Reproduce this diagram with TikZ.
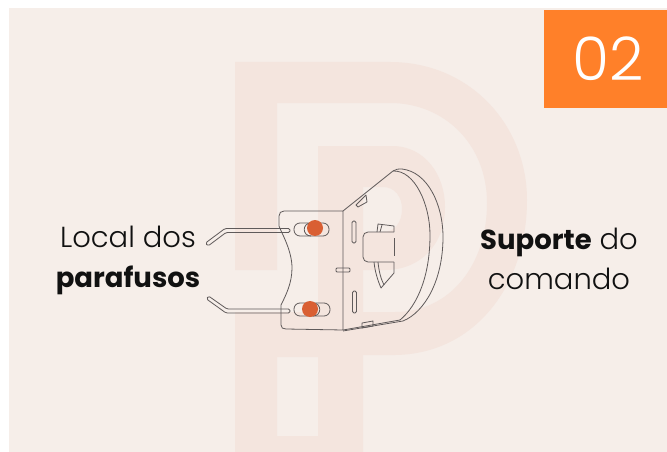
\documentclass[tikz,border=0pt]{standalone}
\usepackage{fontspec}
\setmainfont{Poppins}
\newfontfamily\lightfont{Poppins Light}
\newfontfamily\boldfont[FakeBold=0]{Poppins}
\definecolor{panel}{HTML}{F6EEE9}
\definecolor{wm}{HTML}{F4E5DE}
\definecolor{badge}{HTML}{FF8029}
\definecolor{ink}{HTML}{5F5A5A}
\definecolor{dot}{HTML}{D95F33}
\definecolor{txt}{HTML}{111111}
\newcommand{\strongpart}[1]{{\fontsize{27.5}{40}\selectfont\normalfont\bfseries #1}}
\tikzset{
  part/.style={draw=ink,line width=.8pt,line join=round},
  caption/.style={text=txt,font=\fontsize{29}{40}\selectfont\lightfont,align=center,inner sep=0pt},
  screw/.style={fill=dot,draw=none,circle,minimum size=16pt,inner sep=0pt}
}
\begin{document}
\begin{tikzpicture}[x=1pt,y=-1pt]
\useasboundingbox (0,0) rectangle (667,452);
\fill[white] (0,0) rectangle (667,452);
\fill[panel] (9,8) rectangle (667,452);
% watermark: outer band
\fill[wm,even odd rule] (235,62) -- (390,62) .. controls (470,62) and (527,125) .. (527,200) .. controls (527,285) and (475,354) .. (395,355) -- (363,355) -- (363,452) -- (235,452) -- (235,312) -- (395,312) .. controls (450,312) and (487,265) .. (487,203) .. controls (487,145) and (445,103) .. (390,103) -- (277,103) -- (277,270) -- (235,270) -- cycle
 (277,357) rectangle (318,436);
% watermark: inner stem and bowl
\fill[wm,even odd rule] (318,146) -- (392,146) .. controls (425,146) and (445,175) .. (445,207) .. controls (445,245) and (420,270) .. (385,270) -- (363,270) -- (363,312) -- (318,312) -- cycle
 (363,187) -- (383,187) .. controls (395,187) and (402,197) .. (402,209) .. controls (402,222) and (395,232) .. (383,232) -- (363,232) -- cycle;
\fill[badge] (544,10) rectangle (667,108);
\node[text=white,font=\fontsize{60}{60}\selectfont\lightfont,inner sep=0pt] (num) at (608,59) {02};
\node[caption] (l1) at (128,260) {Local dos\\\strongpart{parafusos}};
\node[caption] (l2) at (559,259) {\strongpart{Suporte} do\\comando};
% plate
\draw[part] (343,211) -- (284,211) .. controls (281,211) and (279,213) .. (279,216) -- (279,226) .. controls (281,232) and (292,250) .. (292,268) .. controls (292,283) and (286,295) .. (281,305) -- (281,325) .. controls (281,328) and (283,329) .. (286,329) -- (343,330) -- cycle;
\draw[part] (343,211) -- (393,171) .. controls (396,169) and (398,169) .. (402,169) .. controls (428,172) and (443,205) .. (443,237) .. controls (443,280) and (425,312) .. (403,321) -- (343,331);
\draw[part] (393,171) .. controls (415,170) and (430,205) .. (430,235) .. controls (430,275) and (418,305) .. (400,320) -- (343,330);
\draw[part] (356,205) -- (366,195) -- (367,202) -- (358,207) -- cycle;
\draw[part] (362,323) -- (373,321) -- (373,326) -- (362,328) -- cycle;
\draw[part,rounded corners=1pt] (336,268) rectangle (350,272);
\draw[part,rounded corners=1.5pt] (352,221) rectangle (356,243);
\draw[part,rounded corners=1.5pt] (352.5,291) rectangle (356.5,313);
\draw[part,rounded corners=5pt] (394,232) -- (363,232) -- (363,262) -- (394,262);
\draw[part] (394,238) -- (394,256);
\draw[part] (377,232) -- (378,224) -- (394,226) -- (394,232);
\draw[part] (382,225) -- (380,232);
\draw[part] (374,262) .. controls (375,272) and (378,281) .. (381,288) -- (394,273) -- (394,262);
\draw[part] (378,262) .. controls (379,272) and (381,279) .. (384,285);
% slots
\draw[part,rounded corners=6pt] (294,223) rectangle (329,236);
\draw[part] (311,223) .. controls (302,223) and (302,236) .. (311,236);
\draw[part,rounded corners=6pt] (294,303) rectangle (330,316);
\draw[part] (313,303) .. controls (322,303) and (322,316) .. (313,316);
\node[screw] (s1) at (315,228) {};
\node[screw] (s2) at (310,309) {};
% hooks
\draw[part,rounded corners=1.5pt] (205.5,243) -- (225,228.5) -- (290,228.5) -- (290,232.5) -- (226,232.5) -- (208,246) -- cycle;
\draw[part,rounded corners=1.5pt] (208.5,296) -- (227,309) -- (290,309) -- (290,313) -- (226,313) -- (206.5,299) -- cycle;
\end{tikzpicture}
\end{document}
